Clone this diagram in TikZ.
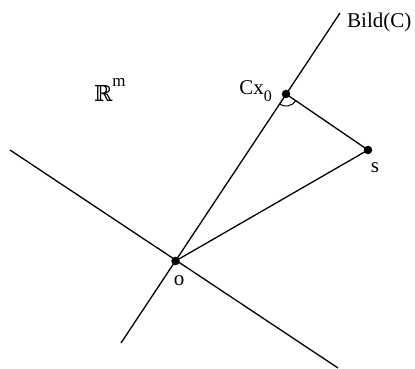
\documentclass[tikz,border=0pt]{standalone}
\usepackage{fontspec}
\setmainfont{Liberation Serif}
\newfontfamily\dsfont{DejaVu Serif}
\usetikzlibrary{angles}
\begin{document}
\begin{tikzpicture}[x=1pt,y=1pt,
  ln/.style={line width=1.3pt, black},
  dot/.style={circle, fill=black, inner sep=0pt, minimum size=8.5pt},
  lbl/.style={font=\fontsize{21}{25}\selectfont, inner sep=0pt}]
\useasboundingbox (0,0) rectangle (415,369);
% points
\node[dot] (O) at (175.5,108) {};
\node[dot] (C) at (286,275) {};
\node[dot] (S) at (368,219) {};
\coordinate (Btop) at (340,356);
\coordinate (Bbot) at (121,26);
\coordinate (Nl) at (10,219);
\coordinate (Nr) at (338,1);
% lines
\draw[ln] (Bbot) -- (Btop);
\draw[ln] (Nl) -- (Nr);
\draw[ln] (O.center) -- (S.center);
\draw[ln] (C.center) -- (S.center);
\pic[draw, line width=1pt, angle radius=12pt] {angle = O--C--S};
% labels
\node[lbl, anchor=west] (lb) at (347,347) {Bild(C)};
\node[lbl, anchor=base east] (lc) at (272,274) {Cx\raisebox{-0.3em}{\fontsize{16}{16}\selectfont 0}};
\node[lbl] (ls) at (375,201) {s};
\node[lbl] (lo) at (179,88) {o};
\node[lbl, anchor=base west] (lr) at (94,267) {{\dsfont\fontsize{22}{26}\selectfont ℝ}\raisebox{0.75em}{\fontsize{17}{17}\selectfont m}};
\end{tikzpicture}
\end{document}
